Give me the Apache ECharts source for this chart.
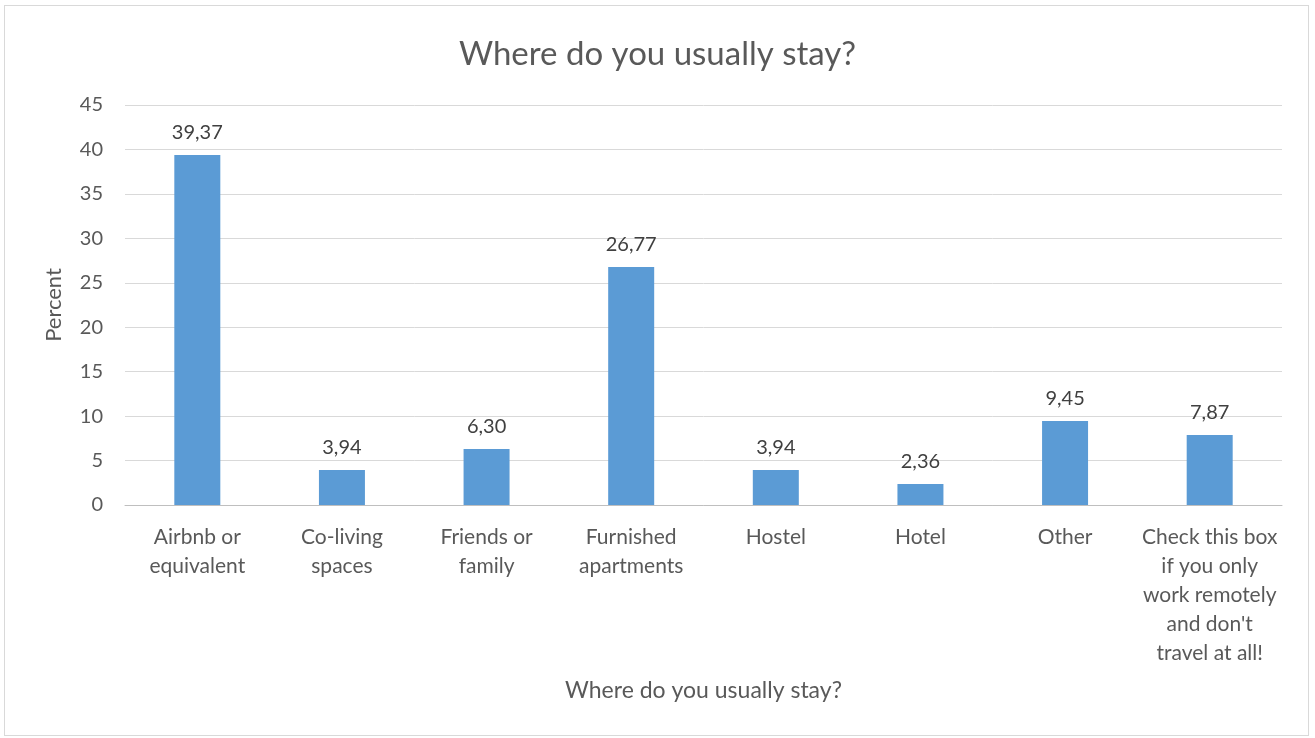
<!DOCTYPE html>
<html><head><meta charset="utf-8">
<script src="https://cdn.jsdelivr.net/npm/echarts@6/dist/echarts.min.js"></script>
<style>
html,body{margin:0;padding:0;background:#fff;}
#frame{position:absolute;left:4px;top:5px;width:1305px;height:731px;border:1px solid #d9d9d9;box-sizing:border-box;}
#c{position:absolute;left:0;top:0;width:1315px;height:738px;}
</style></head>
<body><div id="frame"></div><div id="c"></div>
<script>
const titleText = "Where do you usually stay?";
const categories = ["Airbnb or\nequivalent","Co-living\nspaces","Friends or\nfamily","Furnished\napartments","Hostel","Hotel","Other","Check this box\nif you only\nwork remotely\nand don't\ntravel at all!"];
const values = [39.37,3.94,6.30,26.77,3.94,2.36,9.45,7.87];
const yTicks = {min:0,max:45,interval:5};
const xName = "Where do you usually stay?";
const yName = "Percent";
const FONT = "Lato";
const chart = echarts.init(document.getElementById('c'));
chart.setOption({
  animation:false,
  title:{text:titleText,left:'center',top:33,textStyle:{fontFamily:FONT,fontSize:33,fontWeight:'normal',color:'#595959'}},
  grid:{left:125,right:33,top:105,bottom:233,containLabel:false},
  xAxis:{type:'category',data:categories,
    name:xName,nameLocation:'middle',nameGap:174,
    nameTextStyle:{fontFamily:FONT,fontSize:23,color:'#595959'},
    axisLine:{lineStyle:{color:'#bfbfbf'}},axisTick:{show:false},
    axisLabel:{interval:0,fontFamily:FONT,fontSize:21,color:'#595959',lineHeight:29,margin:18}},
  yAxis:{type:'value',min:yTicks.min,max:yTicks.max,interval:yTicks.interval,
    name:yName,nameLocation:'middle',nameGap:60,
    nameTextStyle:{fontFamily:FONT,fontSize:22,color:'#595959'},
    axisLine:{show:false},axisTick:{show:false},
    axisLabel:{fontFamily:FONT,fontSize:20,color:'#595959',margin:22},
    splitLine:{lineStyle:{color:'#d9d9d9'}}},
  series:[{type:'bar',data:values,barWidth:46,itemStyle:{color:'#5b9bd5'},
    label:{show:true,position:'top',distance:12,fontFamily:FONT,fontSize:20,color:'#404040',
      formatter:p=>p.value.toFixed(2).replace('.',',')}}]
});
</script></body></html>
